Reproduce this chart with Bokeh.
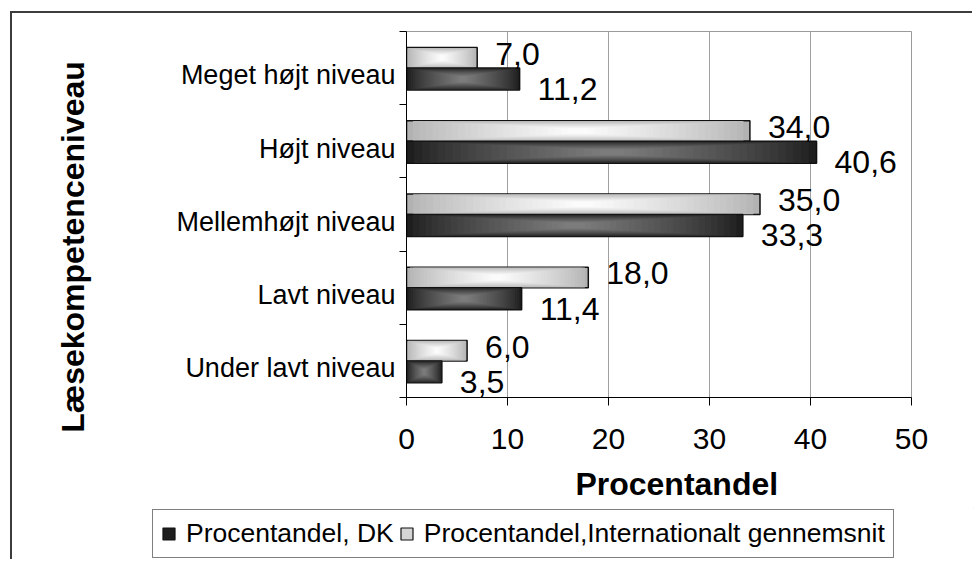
import math
from bokeh.plotting import figure
from bokeh.layouts import column, row
from bokeh.models import (ColumnDataSource, FixedTicker, Label, Legend, LegendItem, Range1d)
from bokeh.core.properties import value
from bokeh.embed import file_html
from bokeh.resources import INLINE

# ---------------- data ----------------
categories = ["Meget højt niveau", "Højt niveau", "Mellemhøjt niveau",
              "Lavt niveau", "Under lavt niveau"]
dk_values = [11.2, 40.6, 33.3, 11.4, 3.5]
intl_values = [7.0, 34.0, 35.0, 18.0, 6.0]
x_ticks = [0, 10, 20, 30, 40, 50]
series_names = ["Procentandel, DK", "Procentandel,Internationalt gennemsnit"]
x_title = "Procentandel"
y_title = "Læsekompetenceniveau"

# ---------------- layout (page pixels) ----------------
OX, OY = 12, 13                 # chart origin on the page (outer border just outside)
W = 962                         # total chart width
TW = 100                        # width of the strip holding the y-axis title
CHART_BOTTOM = 507              # page y where the plot ends and the legend strip starts
LEG_H = 54
FRAME_L, FRAME_R, FRAME_T, FRAME_B = 406, 911, 31, 397   # page coords
X0, X1 = x_ticks[0], x_ticks[-1]
n = len(categories)
HP = CHART_BOTTOM - OY

FONT = "Liberation Sans"
NBSP = "\u00a0"

p = figure(width=W - TW, height=HP, x_range=Range1d(X0, X1), y_range=Range1d(0, n),
           output_backend="svg", toolbar_location=None, frame_align=False,
           min_border_left=FRAME_L - OX - TW, min_border_right=OX + W - FRAME_R,
           min_border_top=FRAME_T - OY, min_border_bottom=CHART_BOTTOM - FRAME_B,
           background_fill_color="white", border_fill_color="white",
           outline_line_color="#9a9a9a", outline_line_width=1)

centers = [n - 0.5 - i for i in range(n)]


def lerp(c1, c2, t):
    a = [int(c1[i:i + 2], 16) for i in (1, 3, 5)]
    b = [int(c2[i:i + 2], 16) for i in (1, 3, 5)]
    return "#%02x%02x%02x" % tuple(round(x + (y - x) * t) for x, y in zip(a, b))


LIGHT = ("#b2b2b2", "#fbfbfb")
DARK = ("#1e1e1e", "#7c7c7c")
EDGE_LINE = "#111111"


def gradient_bars(vals, yc, h, edge, center, steps=26):
    for k in range(steps):
        t = k / (steps - 1)
        inset = [0.47 * t * v for v in vals]
        src = ColumnDataSource(dict(y=yc, left=[i for i in inset],
                                    right=[v - i for v, i in zip(vals, inset)]))
        p.hbar(y="y", left="left", right="right", height=h * (1 - 0.75 * t),
               source=src, fill_color=lerp(edge, center, t ** 0.8),
               line_color=EDGE_LINE if k == 0 else None,
               line_width=1.5 if k == 0 else 0)


intl_y = [c + 0.14 for c in centers]
dk_y = [c - 0.15 for c in centers]
gradient_bars(intl_values, intl_y, 0.28, *LIGHT)
gradient_bars(dk_values, dk_y, 0.30, *DARK)


def fmt(v):
    return f"{v:.1f}".replace(".", ",")


for vals, ys, yoff in ((intl_values, intl_y, -4), (dk_values, dk_y, 10)):
    src = ColumnDataSource(dict(x=vals, y=ys, t=[fmt(v) for v in vals]))
    p.text(x="x", y="y", text="t", source=src, text_font=value(FONT),
           text_font_size="32px", text_align="left", text_baseline="middle",
           x_offset=18, y_offset=yoff, text_color="black")

# ---------------- axes ----------------
xa = p.xaxis[0]
xa.ticker = FixedTicker(ticks=x_ticks)
xa.major_label_text_font = FONT
xa.major_label_text_font_size = "30px"
xa.major_label_text_color = "black"
xa.major_tick_out = 8
xa.major_tick_in = 0
xa.minor_tick_line_color = None
xa.axis_line_color = "black"
xa.major_tick_line_color = "black"
xa.major_label_standoff = 23
xa.axis_label = NBSP * 4 + x_title
xa.axis_label_standoff = 14
xa.axis_label_text_font = FONT
xa.axis_label_text_font_size = "32px"
xa.axis_label_text_font_style = "bold"
xa.axis_label_text_color = "black"

label_pos = [round(c - 0.1, 3) for c in centers]
ya = p.yaxis[0]
ya.ticker = FixedTicker(ticks=label_pos, minor_ticks=list(range(n + 1)))
ya.major_label_overrides = {lp: cat for lp, cat in zip(label_pos, categories)}
ya.major_label_text_font = FONT
ya.major_label_text_font_size = "27px"
ya.major_label_text_color = "black"
ya.major_tick_line_color = None
ya.major_tick_out = 0
ya.major_tick_in = 0
ya.minor_tick_line_color = "black"
ya.minor_tick_out = 7
ya.minor_tick_in = 0
ya.axis_line_color = "black"
ya.major_label_standoff = 4

p.xgrid.ticker = FixedTicker(ticks=x_ticks[1:-1])
p.xgrid.grid_line_color = "#a0a0a0"
p.xgrid.grid_line_width = 1
p.ygrid.visible = False

# ---------------- y-axis title strip (pixel ranges) ----------------
tf = figure(width=TW, height=HP, x_range=Range1d(0, TW), y_range=Range1d(0, HP),
            output_backend="svg", toolbar_location=None, x_axis_type=None,
            y_axis_type=None, min_border=0, outline_line_color=None, frame_align=False,
            background_fill_color="white", border_fill_color="white")
tf.xgrid.visible = False
tf.ygrid.visible = False
tf.add_layout(Label(x=72 - OX, y=HP - (246.5 - OY), text=y_title, angle=math.pi / 2,
                    text_font=FONT, text_font_size="32px", text_font_style="bold",
                    text_align="center", text_baseline="middle", text_color="black"))

# ---------------- legend strip ----------------
lf = figure(width=W, height=LEG_H, x_range=Range1d(0, 1), y_range=Range1d(0, 1),
            output_backend="svg", toolbar_location=None, x_axis_type=None,
            y_axis_type=None, min_border=0, outline_line_color=None, frame_align=False,
            background_fill_color="white", border_fill_color="white")
lf.xgrid.visible = False
lf.ygrid.visible = False
# legend swatches only: one bar each, placed outside the strip's visible range
r_dk = lf.hbar(y="y", left="left", right="right", height=1,
               source=ColumnDataSource(dict(y=[10], left=[10], right=[11])),
               fill_color=DARK[0], line_color=EDGE_LINE, line_width=1.2)
r_in = lf.hbar(y="y", left="left", right="right", height=1,
               source=ColumnDataSource(dict(y=[10], left=[10], right=[11])),
               fill_color="#d4d4d4", line_color=EDGE_LINE, line_width=1.2)
legend = Legend(items=[LegendItem(label=series_names[0], renderers=[r_dk]),
                       LegendItem(label=series_names[1], renderers=[r_in])],
                location=(152 - OX, 3), orientation="horizontal",
                label_text_font=FONT, label_text_font_size="26.5px",
                label_text_color="black", glyph_width=15, glyph_height=15,
                label_standoff=10, spacing=5, padding=8, margin=0,
                border_line_color="black", border_line_width=1.5,
                background_fill_color="white", background_fill_alpha=1.0)
lf.add_layout(legend)

layout = column(row(tf, p, spacing=0), lf, spacing=0)
layout.margin = (OY, 0, 0, OX)
layout.styles = {"box-shadow": "-2px -2px 0 0 #3c3c3c"}

open("out.html", "w").write(file_html(layout, INLINE))
